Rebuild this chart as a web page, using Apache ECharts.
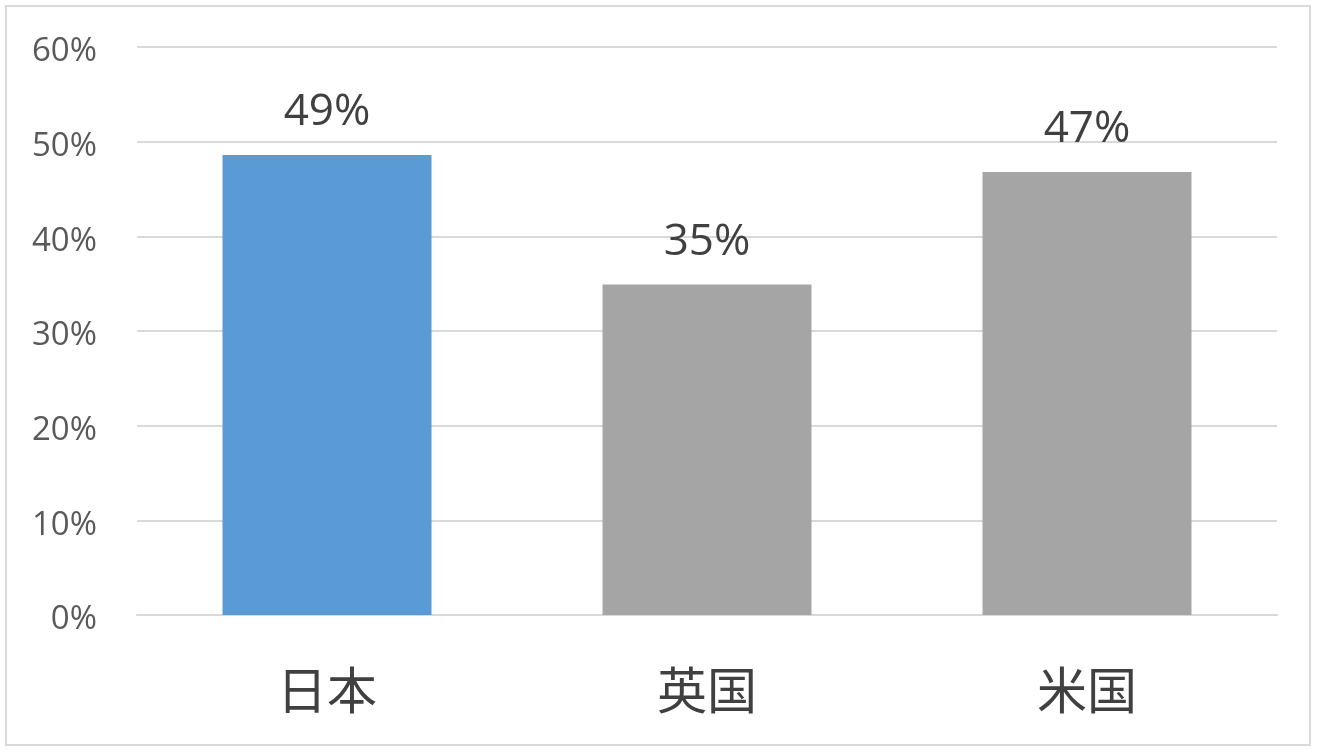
<!DOCTYPE html>
<html><head><meta charset="utf-8">
<script src="https://cdn.jsdelivr.net/npm/echarts@6/dist/echarts.min.js"></script>
<style>html,body{margin:0;padding:0;background:#fff}#c{width:1320px;height:752px}</style>
</head><body><div id="c"></div>
<script>
const categories = ['日本', '英国', '米国'];
const values = [48.6, 34.9, 46.8];
const barColors = ['#5b9bd5', '#a5a5a5', '#a5a5a5'];
const yTicks = [0, 10, 20, 30, 40, 50, 60];

const chart = echarts.init(document.getElementById('c'));
chart.setOption({
  backgroundColor: '#fff',
  animation: false,
  graphic: [{
    type: 'rect', shape: {x: 6, y: 6, width: 1304, height: 739},
    style: {fill: 'none', stroke: '#d9d9d9', lineWidth: 2}, silent: true, z: -1
  }],
  grid: {left: 137, right: 43, top: 47, bottom: 137},
  xAxis: {
    type: 'category', data: categories,
    axisLine: {show: true, lineStyle: {color: '#d9d9d9', width: 2}},
    axisTick: {show: false},
    axisLabel: {color: '#404040', fontSize: 50, margin: 50, fontFamily: 'Noto Sans CJK JP'}
  },
  yAxis: {
    type: 'value', min: yTicks[0], max: yTicks[yTicks.length - 1], interval: 10,
    axisLine: {show: false}, axisTick: {show: false},
    splitLine: {lineStyle: {color: '#d9d9d9', width: 2}},
    axisLabel: {color: '#595959', fontSize: 33, margin: 40, fontFamily: 'Open Sans',
      formatter: v => '{a|' + v + '%}',
      rich: {a: {color: '#595959', fontSize: 33, fontFamily: 'Open Sans', padding: [10, 0, 0, 0]}}}
  },
  series: [{
    type: 'bar', barWidth: '55%',
    data: values.map((v, i) => ({value: v, itemStyle: {color: barColors[i]}})),
    label: {show: true, position: 'top', distance: 20, color: '#404040', fontSize: 44,
      fontWeight: 500, fontFamily: 'Open Sans', formatter: p => Math.round(p.value) + '%'}
  }]
});
</script></body></html>
